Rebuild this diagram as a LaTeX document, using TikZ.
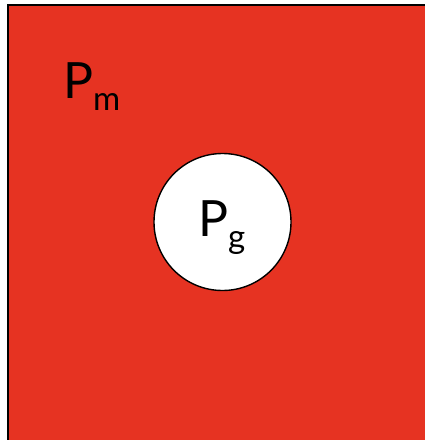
\documentclass[tikz,border=0pt]{standalone}
\usepackage{fontspec}
\setmainfont{Lato}
\definecolor{bgred}{RGB}{230,51,34}
\begin{document}
\begin{tikzpicture}[x=1pt,y=-1pt,
  lbl/.style={inner sep=0pt,anchor=base west,font=\fontsize{50}{50}\selectfont}]
\useasboundingbox (0,0) rectangle (425,440);
\begin{scope}
\clip (0,0) rectangle (425,440);
\draw[fill=bgred,line width=1.6pt] (8,5) rectangle (440,455);
\end{scope}
\node[circle,draw,fill=white,line width=1.4pt,minimum size=137pt,inner sep=0pt] (g) at (222.5,222) {};
\node[lbl] (pm) at (63,98) {P\raisebox{-0.25em}{\fontsize{33}{33}\selectfont m}};
\node[lbl] (pg) at (198,236) {P\raisebox{-0.25em}{\fontsize{33}{33}\selectfont g}};
\end{tikzpicture}
\end{document}
